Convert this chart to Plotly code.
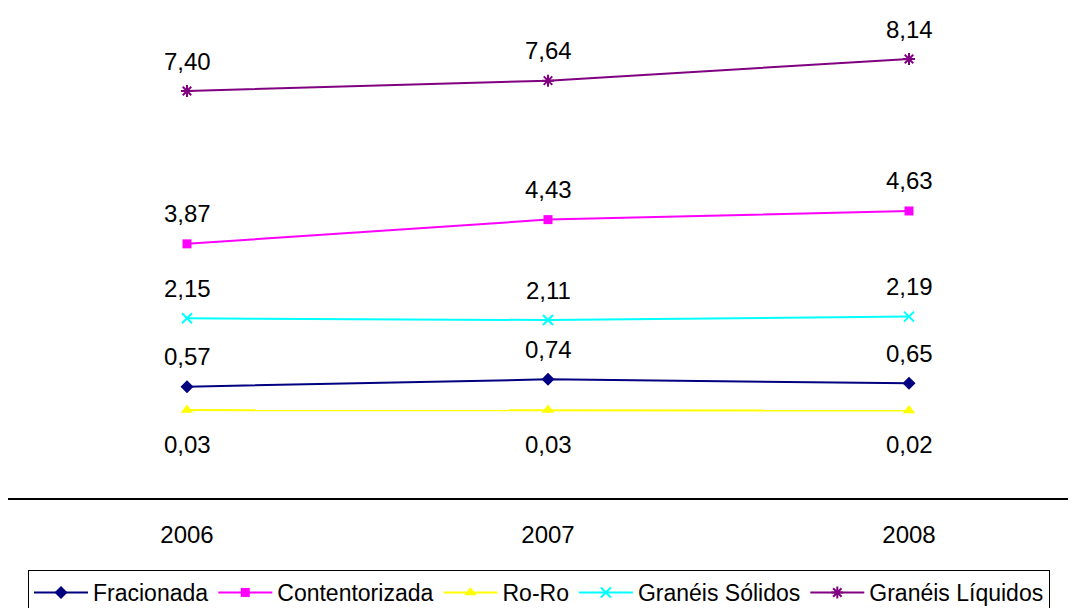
import plotly.graph_objects as go

years = ["2006", "2007", "2008"]
series_names = ["Fracionada", "Contentorizada", "Ro-Ro", "Granéis Sólidos", "Granéis Líquidos"]
fracionada = [0.57, 0.74, 0.65]
contentorizada = [3.87, 4.43, 4.63]
roro = [0.03, 0.03, 0.02]
solidos = [2.15, 2.11, 2.19]
liquidos = [7.40, 7.64, 8.14]

values = [fracionada, contentorizada, roro, solidos, liquidos]
colors = ["#000080", "#FF00FF", "#FFFF00", "#00FFFF", "#800080"]
symbols = ["diamond", "square", "triangle-up", "x-thin-open", "asterisk-open"]
sizes = [10, 9, 11, 10, 10]
label_shift = [30, 30, -34, 30, 30]

FONT = "Liberation Sans, Arial, sans-serif"
W = 1084

fig = go.Figure()
annotations = []
for name, vals, col, sym, sz, shift in zip(series_names, values, colors, symbols, sizes, label_shift):
    fig.add_trace(go.Scatter(
        x=[0, 1, 2], y=vals, name=name, mode="lines+markers",
        line=dict(color=col, width=2),
        marker=dict(symbol=sym, size=sz, color=col, line=dict(color=col, width=2 if "open" in sym else 0)),
        cliponaxis=False,
    ))
    for i, v in enumerate(vals):
        annotations.append(dict(
            x=i, y=v, xref="x", yref="y", text=f"{v:.2f}".replace(".", ","),
            showarrow=False, yshift=shift, font=dict(family=FONT, size=24, color="black"),
        ))

fig.update_layout(
    width=W, height=608,
    margin=dict(l=0, r=0, t=0, b=118),
    paper_bgcolor="white", plot_bgcolor="white",
    showlegend=True,
    legend=dict(
        orientation="h", x=20/W, y=-(562-490)/490, xanchor="left", yanchor="top",
        bordercolor="black", borderwidth=1, font=dict(family=FONT, size=23, color="black"),
        itemwidth=54, tracegroupgap=0,
    ),
    annotations=annotations,
    xaxis=dict(
        range=[-179/361, (W - 179) / 361], tickvals=[0, 1, 2], ticktext=years,
        showline=True, linecolor="black", linewidth=1.5, showgrid=False, zeroline=False,
        ticks="", ticklabelstandoff=14, tickfont=dict(family=FONT, size=24, color="black"),
    ),
    yaxis=dict(range=[-2, 9.318], visible=False, showgrid=False, zeroline=False),
)

fig.write_html("out.html")
